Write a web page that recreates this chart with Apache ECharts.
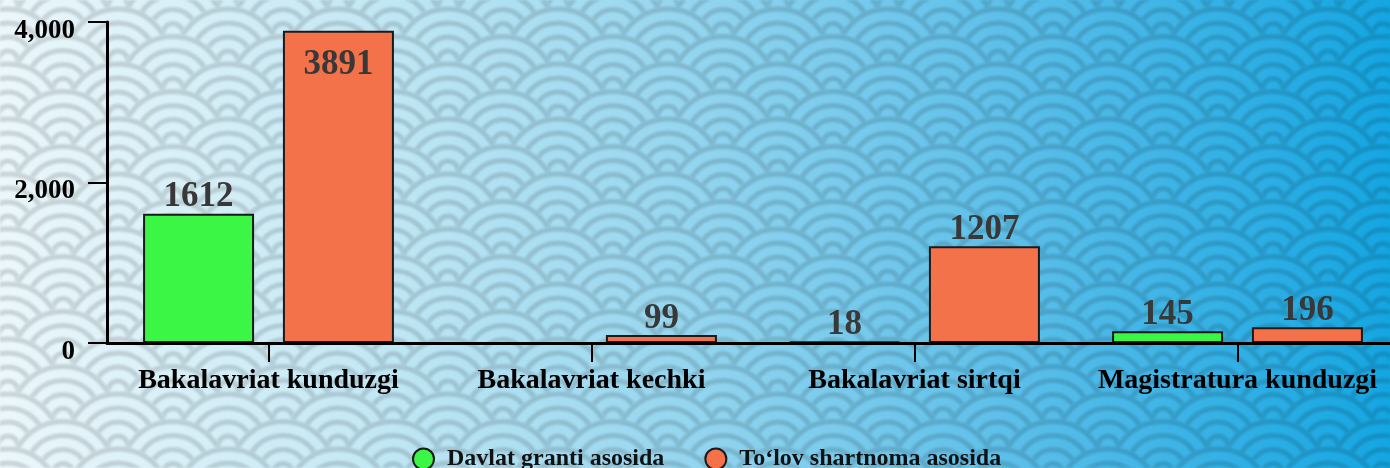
<!DOCTYPE html>
<html lang="uz">
<head>
    <meta charset="UTF-8">
    <script src="https://cdn.jsdelivr.net/npm/echarts@6/dist/echarts.min.js"></script>
    <title>Talabalar soni</title>
    <style>
        html, body {
            margin: 0;
            padding: 0;
            width: 1390px;
            height: 468px;
            overflow: hidden;
        }
        .layer {
            position: absolute;
            left: 0;
            top: 0;
            width: 1390px;
            height: 468px;
        }
        #bg {
            background: linear-gradient(90deg, #ebf7fb 0%, #c6e9f5 25%, #93d5ef 50%, #56bde9 75%, #14a6e2 100%);
        }
        #waves {
            mix-blend-mode: multiply;
            filter: blur(1.1px);
        }
    </style>
</head>
<body>
<div id="bg" class="layer"></div>
<div id="waves" class="layer"></div>
<div id="container" class="layer"></div>
<script type="text/javascript">
    // data
    const categories = ['Bakalavriat kunduzgi', 'Bakalavriat kechki', 'Bakalavriat sirtqi', 'Magistratura kunduzgi'];
    const grantValues = [1612, null, 18, 145];
    const contractValues = [3891, 99, 1207, 196];
    const seriesNames = ['Davlat granti asosida', 'To‘lov shartnoma asosida'];
    const yMax = 4000;
    const yStep = 2000;

    // seigaiha background pattern (decorative)
    function makeWaves() {
        const r = 55;
        let defs = '<defs><g id="s"><circle r="' + r + '" fill="#fff"/>';
        for (let k = 0; k < 4; k++) {
            defs += '<circle r="' + (r - 3 - k * 14) + '" fill="none" stroke="#dcdcdc" stroke-width="5"/>';
        }
        defs += '</g></defs>';
        let body = '';
        for (let row = -2; row <= 4; row++) {
            const y = row * r / 2;
            const off = (row % 2 === 0) ? 0 : r;
            for (let x = -2 * r + off; x <= 2 * r + off; x += 2 * r) {
                body += '<use href="#s" x="' + x + '" y="' + y + '"/>';
            }
        }
        const svg = '<svg xmlns="http://www.w3.org/2000/svg" width="' + (2 * r) + '" height="' + r + '">' + defs + body + '</svg>';
        const el = document.getElementById('waves');
        el.style.backgroundImage = 'url("data:image/svg+xml,' + encodeURIComponent(svg) + '")';
        el.style.backgroundPosition = '8px 6px';
    }
    makeWaves();

    const font = 'Liberation Serif';
    const dom = document.getElementById('container');
    var myChart = echarts.init(dom, null, {renderer: 'canvas'});

    let contractData = contractValues.map(v => v > yMax * 0.9
        ? {value: v, label: {position: 'insideTop', distance: 17}}
        : v);

    const barLabel = {
        show: true,
        position: 'top',
        distance: -1,
        fontFamily: font,
        fontWeight: 'bold',
        fontSize: 35,
        color: '#383838'
    };

    var option = {
        backgroundColor: 'transparent',
        animation: false,
        grid: {left: 107, right: -9, top: 22, bottom: 125, outerBoundsMode: 'none'},
        legend: {
            data: seriesNames,
            left: 407,
            top: 442,
            icon: 'circle',
            itemWidth: 21,
            itemHeight: 21,
            itemGap: 40,
            textStyle: {
                fontFamily: font,
                fontWeight: 'bold',
                fontSize: 24,
                color: '#111',
                padding: [0, 0, 0, 8]
            }
        },
        xAxis: {
            type: 'category',
            data: categories,
            z: 5,
            axisLine: {lineStyle: {color: '#000', width: 3}},
            axisTick: {show: true, alignWithLabel: true, interval: 0, length: 19, lineStyle: {color: '#000', width: 2}},
            axisLabel: {
                interval: 0,
                margin: 24,
                hideOverlap: false,
                fontFamily: font,
                fontWeight: 'bold',
                fontSize: 28,
                color: '#000'
            }
        },
        yAxis: {
            type: 'value',
            min: 0,
            max: yMax,
            interval: yStep,
            splitLine: {show: false},
            axisLine: {show: true, lineStyle: {color: '#000', width: 3}},
            axisTick: {show: true, length: 19, lineStyle: {color: '#000', width: 2}},
            axisLabel: {
                margin: 32,
                fontFamily: font,
                fontWeight: 'bold',
                fontSize: 27,
                color: '#000',
                verticalAlign: 'top',
                lineHeight: 18,
                formatter: v => v.toLocaleString('en-US')
            }
        },
        series: [
            {
                name: seriesNames[0],
                type: 'bar',
                data: grantValues,
                barWidth: 111,
                barGap: '26%',
                itemStyle: {color: '#3bf644', borderColor: '#1a1a1a', borderWidth: 2},
                label: barLabel
            },
            {
                name: seriesNames[1],
                type: 'bar',
                data: contractData,
                barWidth: 111,
                barGap: '26%',
                itemStyle: {color: '#f4724a', borderColor: '#1a1a1a', borderWidth: 2},
                label: barLabel
            }
        ]
    };
    myChart.setOption(option);
</script>
</body>
</html>
